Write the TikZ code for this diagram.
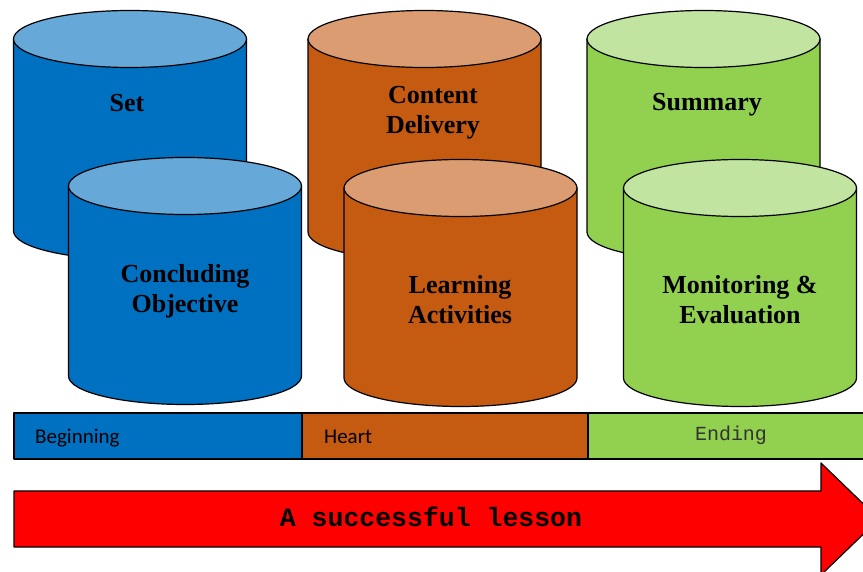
\documentclass[tikz,border=0pt]{standalone}
\usepackage{fontspec}
\setmainfont{Liberation Serif}
\newfontfamily\monofont{Liberation Mono}
\newfontfamily\calibrifont{Carlito}
\definecolor{bluebody}{HTML}{0070C0}
\definecolor{bluetop}{HTML}{66A9D9}
\definecolor{orangebody}{HTML}{C55A11}
\definecolor{orangetop}{HTML}{DC9C72}
\definecolor{greenbody}{HTML}{92D050}
\definecolor{greentop}{HTML}{C1E4A0}
\definecolor{arrowred}{HTML}{FF0000}
\tikzset{
  outline/.style={draw=black, line width=1.2pt, line join=round},
  cyllabel/.style={font=\fontsize{26}{30}\selectfont\bfseries, align=center, text=black},
  barlabel/.style={font=\calibrifont\fontsize{21}{23}\selectfont, anchor=base west, text=black, inner sep=0pt},
}
% #1 cx, #2 top centre y, #3 bottom centre y, #4 body colour, #5 top colour
\newcommand{\drawcyl}[5]{%
  \path[outline, fill=#4] (#1-116.5,#2) -- (#1-116.5,#3)
     arc[start angle=180, end angle=360, x radius=116.5, y radius=28.5]
     -- (#1+116.5,#2) -- cycle;
  \path[outline, fill=#5] (#1,#2) ellipse[x radius=116.5, y radius=28.5];
}
\begin{document}
\begin{tikzpicture}[x=1pt,y=1pt]
\useasboundingbox (0,0) rectangle (863,571);
\clip (0,0) rectangle (863,571);
% back row
\drawcyl{130}{532}{340}{bluebody}{bluetop}
\drawcyl{424.5}{532}{339}{orangebody}{orangetop}
\drawcyl{703.5}{532}{339}{greenbody}{greentop}
\node[cyllabel] (set) at (127,468) {Set};
\node[cyllabel] (content) at (433,458) {Content\\Delivery};
\node[cyllabel] (summary) at (707,466) {Summary};
% front row
\drawcyl{185}{385}{195}{bluebody}{bluetop}
\drawcyl{460.5}{383}{193}{orangebody}{orangetop}
\drawcyl{740}{383}{193}{greenbody}{greentop}
\node[cyllabel] (concl) at (185,280) {Concluding\\Objective};
\node[cyllabel] (learn) at (460,271) {Learning\\Activities};
\node[cyllabel] (monit) at (740,271) {Monitoring \&\\Evaluation};
% phase bar
\path[outline, fill=bluebody] (14,112) rectangle (302,158);
\path[outline, fill=orangebody] (302,112) rectangle (588,158);
\path[outline, fill=greenbody] (588,112) rectangle (866,158);
\node[barlabel] (beg) at (35,127) {Beginning};
\node[barlabel] (heart) at (324,127) {Heart};
\node[font=\monofont\fontsize{20}{22}\selectfont, text=black!80] (end) at (731,136) {Ending};
% arrow
\path[outline, fill=arrowred] (14,24) -- (14,80) -- (821,80) -- (821,108)
   -- (879,52) -- (821,-4) -- (821,24) -- cycle;
\node[font=\monofont\bfseries\fontsize{26.5}{28}\selectfont, text=black] (lesson) at (431,54) {A successful lesson};
\end{tikzpicture}
\end{document}
